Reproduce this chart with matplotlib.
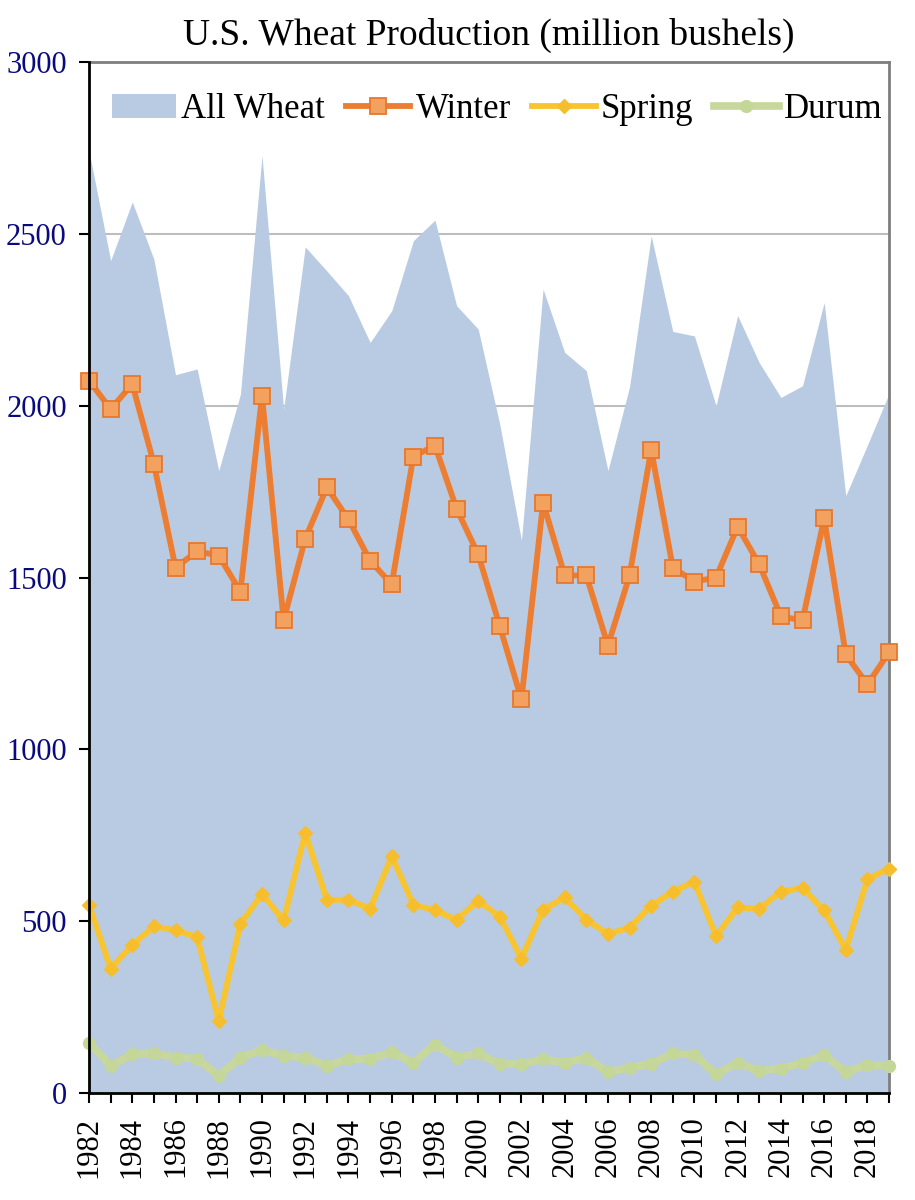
import matplotlib

matplotlib.use("Agg")
import matplotlib.pyplot as plt

years = list(range(1982, 2020))

# million bushels
all_wheat = [2741, 2422, 2593, 2426, 2090, 2107, 1811, 2033, 2727, 1990,
             2462, 2392, 2320, 2184, 2276, 2480, 2540, 2291, 2223, 1945,
             1608, 2339, 2155, 2102, 1811, 2055, 2494, 2216, 2203, 2000,
             2262, 2125, 2024, 2058, 2300, 1738, 1885, 2035]
winter = [2073, 1990, 2063, 1831, 1529, 1576, 1564, 1459, 2029, 1375,
          1613, 1762, 1669, 1549, 1480, 1852, 1884, 1700, 1567, 1358,
          1145, 1718, 1506, 1506, 1302, 1506, 1872, 1529, 1488, 1500,
          1648, 1538, 1387, 1375, 1672, 1276, 1189, 1282]
spring = [547, 362, 430, 485, 473, 454, 209, 492, 579, 502,
          757, 562, 562, 536, 689, 548, 531, 504, 560, 513,
          391, 533, 569, 504, 463, 481, 545, 586, 615, 456,
          540, 536, 586, 596, 531, 417, 622, 653]
durum = [146, 79, 112, 115, 103, 100, 50, 103, 125, 108,
         103, 79, 98, 100, 118, 88, 141, 103, 115, 84,
         84, 98, 88, 103, 60, 74, 84, 115, 110, 55,
         88, 64, 71, 88, 110, 61, 82, 79]

y_ticks = [0, 500, 1000, 1500, 2000, 2500, 3000]
x_labels = [str(y) if y % 2 == 0 else "" for y in years]

SERIF = ["Liberation Serif", "DejaVu Serif"]

fig = plt.figure(figsize=(9.15, 12), dpi=100)
ax = fig.add_axes([0.0973, 0.0892, 0.8743, 0.8591])

ax.fill_between(years, all_wheat, 0, color="#B9CBE2", linewidth=0,
                zorder=2, label="All Wheat")
ax.plot(years, winter, color="#ED7D31", linewidth=4.2, marker="s",
        markersize=12, markerfacecolor="#F2A15F", markeredgecolor="#E8772E",
        markeredgewidth=1.3, zorder=5, clip_on=False, label="Winter")
ax.plot(years, spring, color="#F8C530", linewidth=4.2, marker="D",
        markersize=7.5, markerfacecolor="#F6BE2C", markeredgecolor="#F6BE2C",
        zorder=4, clip_on=False, label="Spring")
ax.plot(years, durum, color="#C8D89C", linewidth=5.5, marker="o",
        markersize=8.5, markerfacecolor="#C5D699", markeredgecolor="#C5D699",
        zorder=3, clip_on=False, label="Durum")

ax.set_xlim(1982, 2019)
ax.set_ylim(0, 3000)
ax.set_yticks(y_ticks)
ax.set_yticklabels([str(v) for v in y_ticks], color="#0A0A80",
                   fontfamily=SERIF, fontsize=22)
ax.set_xticks(years)
ax.set_xticklabels(x_labels, rotation=90, fontfamily=SERIF, fontsize=22)
ax.tick_params(axis="both", direction="out", length=7, width=1.5)
ax.tick_params(axis="y", pad=9)
ax.tick_params(axis="x", pad=10)

ax.grid(True, axis="y", color="#BDBDBD", linewidth=1.5, zorder=1)
ax.set_axisbelow(True)

for side in ("left", "bottom"):
    ax.spines[side].set_color("black")
    ax.spines[side].set_linewidth(2)
for side in ("top", "right"):
    ax.spines[side].set_color("#7F7F7F")
    ax.spines[side].set_linewidth(2)
ax.spines["left"].set_zorder(6)
ax.spines["bottom"].set_zorder(6)

ax.set_title("U.S. Wheat Production (million bushels)", fontfamily=SERIF,
             fontsize=27, pad=12)

ax.legend(loc="upper center", bbox_to_anchor=(0.51, 1.0), ncol=4,
          frameon=False, prop={"family": SERIF, "size": 25},
          handlelength=1.85, handletextpad=0.15, columnspacing=0.6)

fig.savefig("out.png", dpi=100)
plt.close(fig)
